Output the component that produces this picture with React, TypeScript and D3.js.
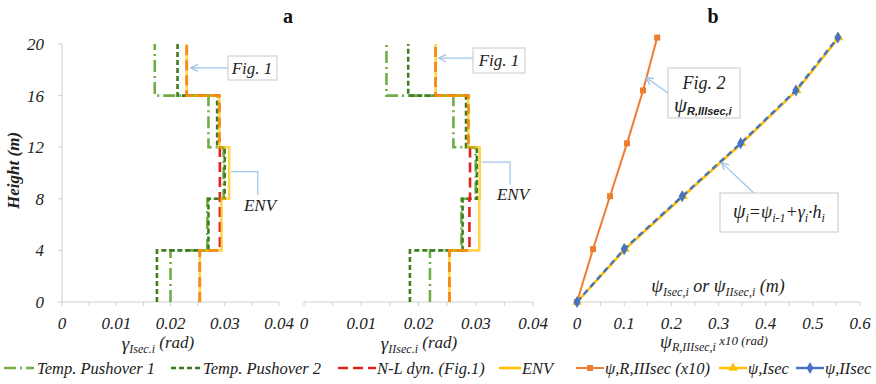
import React from 'react';
import * as d3 from 'd3';

// storey boundaries (m) for the drift profiles
const storyLevels = [0, 4, 8, 12, 16, 20];

// inter-storey drift γ, bottom storey first — section I
const tp1Isec = [0.02, 0.0268, 0.0298, 0.027, 0.0171];
const tp2Isec = [0.0175, 0.027, 0.03, 0.0286, 0.0213];
const nlIsec = [0.0254, 0.0291, 0.0291, 0.029, 0.023];
const envIsec = [0.0254, 0.0294, 0.0308, 0.029, 0.023];

// section II
const tp1IIsec = [0.022, 0.0275, 0.03, 0.0261, 0.0144];
const tp2IIsec = [0.0185, 0.0277, 0.0302, 0.0283, 0.0182];
const nlIIsec = [0.0254, 0.0289, 0.029, 0.0287, 0.023];
const envIIsec = [0.0254, 0.0306, 0.0307, 0.0287, 0.023];

// panel b: floor levels and lateral displacements
const floorLevels = [0, 4.1, 8.2, 12.3, 16.4, 20.5];
const psiR = [0, 0.034, 0.07, 0.106, 0.14, 0.17];
const psiIsec = [0, 0.102, 0.225, 0.349, 0.466, 0.555];
const psiIIsec = [0, 0.1, 0.223, 0.347, 0.464, 0.553];

const heightTicks = [0, 4, 8, 12, 16, 20];
const gammaTicks = [0, 0.01, 0.02, 0.03, 0.04];
const psiTicks = [0, 0.1, 0.2, 0.3, 0.4, 0.5, 0.6];

const legendLabels = [
  'Temp. Pushover 1',
  'Temp. Pushover 2',
  'N-L dyn. (Fig.1)',
  'ENV',
  'ψ,R,IIIsec (x10)',
  'ψ,Isec',
  'ψ,IIsec',
];

const C = {
  tp1: '#70AD47',
  tp2: '#3E7D22',
  nl: '#E3211C',
  env: '#FFC000',
  orange: '#ED7D31',
  yellow: '#FFC000',
  blue: '#4472C4',
  axis: '#D0D0D0',
  callout: '#9DC3E6',
  text: '#222',
};

const SERIF = 'Liberation Serif';
const SANS = 'Liberation Sans';

const W = 876;
const H = 384;

const y = d3.scaleLinear().domain([0, 20]).range([302, 44]);
const x1 = d3.scaleLinear().domain([0, 0.04]).range([62, 279]);
const x2 = d3.scaleLinear().domain([0, 0.04]).range([304, 533]);
const x3 = d3.scaleLinear().domain([0, 0.6]).range([577, 860]);

type Pt = [number, number];

const stepPoints = (vals: number[]): Pt[] =>
  vals.flatMap((g, i) => [
    [g, storyLevels[i]] as Pt,
    [g, storyLevels[i + 1]] as Pt,
  ]);

const lineFor = (xs: d3.ScaleLinear<number, number>) =>
  d3
    .line<Pt>()
    .x((d) => xs(d[0]))
    .y((d) => y(d[1]));

const styles = {
  tp1: { stroke: C.tp1, strokeWidth: 2.6, strokeDasharray: '12 4 2 4' },
  tp2: { stroke: C.tp2, strokeWidth: 2.6, strokeDasharray: '5 3' },
  nl: { stroke: C.nl, strokeWidth: 2.6, strokeDasharray: '10 5' },
  env: { stroke: C.env, strokeWidth: 2.6, opacity: 0.7 },
};

const fmt = (t: number) => String(+t.toFixed(2));

const XAxis = ({
  xs,
  ticks,
  minor,
}: {
  xs: d3.ScaleLinear<number, number>;
  ticks: number[];
  minor: number;
}) => {
  const [a, b] = xs.range();
  return (
    <g>
      <line x1={a} x2={b} y1={y(0)} y2={y(0)} stroke={C.axis} strokeWidth={1} />
      {xs.ticks(minor).map((t) => (
        <line
          key={t}
          x1={xs(t)}
          x2={xs(t)}
          y1={y(0)}
          y2={y(0) + 4}
          stroke={C.axis}
        />
      ))}
      {ticks.map((t) => (
        <text
          key={t}
          x={xs(t)}
          y={y(0) + 27}
          textAnchor="middle"
          fontSize={17}
          fontStyle="italic"
          fill={C.text}
        >
          {fmt(t)}
        </text>
      ))}
    </g>
  );
};

const DriftPanel = ({
  xs,
  tp1,
  tp2,
  nl,
  env,
}: {
  xs: d3.ScaleLinear<number, number>;
  tp1: number[];
  tp2: number[];
  nl: number[];
  env: number[];
}) => {
  const line = lineFor(xs);
  return (
    <g fill="none">
      <path d={line(stepPoints(tp1)) ?? ''} {...styles.tp1} />
      <path d={line(stepPoints(tp2)) ?? ''} {...styles.tp2} />
      <path d={line(stepPoints(nl)) ?? ''} {...styles.nl} />
      <path d={line(stepPoints(env)) ?? ''} {...styles.env} />
    </g>
  );
};

const Callout = ({ pts }: { pts: Pt[] }) => (
  <polyline
    points={pts.map((p) => p.join(',')).join(' ')}
    fill="none"
    stroke={C.callout}
    strokeWidth={1.2}
    markerEnd="url(#arrow)"
  />
);

const Box = ({ x, y0, w, h }: { x: number; y0: number; w: number; h: number }) => (
  <rect x={x} y={y0} width={w} height={h} fill="#fff" stroke="#C8C8C8" strokeWidth={1} />
);

const Marker = ({ kind, cx, cy, color }: { kind: string; cx: number; cy: number; color: string }) => {
  if (kind === 'square')
    return <rect x={cx - 3} y={cy - 3} width={6} height={6} fill={color} />;
  const sym = kind === 'triangle' ? d3.symbolTriangle : d3.symbolDiamond;
  return (
    <path
      d={d3.symbol(sym, kind === 'triangle' ? 38 : 42)() ?? ''}
      transform={`translate(${cx},${cy})`}
      fill={color}
    />
  );
};

const App = () => {
  const l3 = d3
    .line<Pt>()
    .x((d) => x3(d[0]))
    .y((d) => y(d[1]));
  const ptsR = psiR.map((v, i) => [v, floorLevels[i]] as Pt);
  const ptsI = psiIsec.map((v, i) => [v, floorLevels[i]] as Pt);
  const ptsII = psiIIsec.map((v, i) => [v, floorLevels[i]] as Pt);

  const legend = [
    { x0: 4, x1: 34, tx: 37, st: styles.tp1 },
    { x0: 171, x1: 200, tx: 203, st: styles.tp2 },
    { x0: 338, x1: 376, tx: 377, st: styles.nl },
    { x0: 499, x1: 521, tx: 522, st: { stroke: C.env, strokeWidth: 2.6 } },
    { x0: 576, x1: 604, tx: 605, st: { stroke: C.orange, strokeWidth: 2 }, mk: 'square', mc: C.orange },
    { x0: 719, x1: 747, tx: 748, st: { stroke: C.yellow, strokeWidth: 2.4 }, mk: 'triangle', mc: C.yellow },
    { x0: 796, x1: 824, tx: 825, st: { stroke: C.blue, strokeWidth: 2.4 }, mk: 'diamond', mc: C.blue },
  ];

  return (
    <svg
      width={W}
      height={H}
      style={{ position: 'absolute', left: 0, top: 0, background: '#fff' }}
      fontFamily={SERIF}
    >
      <defs>
        <marker
          id="arrow"
          viewBox="0 0 10 10"
          refX={9}
          refY={5}
          markerWidth={9}
          markerHeight={9}
          markerUnits="userSpaceOnUse"
          orient="auto"
        >
          <path d="M1,1 L9,5 L1,9" fill="none" stroke={C.callout} strokeWidth={1.4} />
        </marker>
      </defs>

      {/* titles */}
      <text x={288} y={23} textAnchor="middle" fontSize={20} fontWeight="bold" fill="#111">
        a
      </text>
      <text x={713} y={23} textAnchor="middle" fontSize={20} fontWeight="bold" fill="#111">
        b
      </text>

      {/* y axis (panel a) */}
      <line x1={x1(0)} x2={x1(0)} y1={y(0)} y2={y(20)} stroke={C.axis} />
      {heightTicks.map((t) => (
        <g key={t}>
          <line x1={x1(0) - 4} x2={x1(0)} y1={y(t)} y2={y(t)} stroke={C.axis} />
          <text
            x={44}
            y={y(t) + 6}
            textAnchor="end"
            fontSize={17}
            fontStyle="italic"
            fill={C.text}
          >
            {t}
          </text>
        </g>
      ))}
      <text
        transform={`translate(19,${y(10.2)}) rotate(-90)`}
        textAnchor="middle"
        fontSize={17}
        fontStyle="italic"
        fontWeight="bold"
        fill={C.text}
      >
        Height (m)
      </text>

      {/* x axes */}
      <XAxis xs={x1} ticks={gammaTicks} minor={8} />
      <XAxis xs={x2} ticks={gammaTicks} minor={8} />
      <XAxis xs={x3} ticks={psiTicks} minor={12} />

      <text x={158} y={350} textAnchor="middle" fontStyle="italic" fill={C.text}>
        <tspan fontSize={19}>γ</tspan>
        <tspan fontSize={12} dy={3}>Isec.i</tspan>
        <tspan fontSize={17} dy={-5}> (rad)</tspan>
      </text>
      <text x={419} y={350} textAnchor="middle" fontStyle="italic" fill={C.text}>
        <tspan fontSize={19}>γ</tspan>
        <tspan fontSize={12} dy={3}>IIsec.i</tspan>
        <tspan fontSize={17} dy={-5}> (rad)</tspan>
      </text>
      <text x={714} y={348} textAnchor="middle" fontStyle="italic" fill={C.text}>
        <tspan fontSize={19}>ψ</tspan>
        <tspan fontSize={12} dy={3}>R,IIIsec,i</tspan>
        <tspan fontSize={13} dy={-6}> x10 (rad)</tspan>
      </text>
      <text x={718} y={292} textAnchor="middle" fontStyle="italic" fill={C.text}>
        <tspan fontSize={19}>ψ</tspan>
        <tspan fontSize={12} dy={4}>Isec,i</tspan>
        <tspan fontSize={18} dy={-4}> or </tspan>
        <tspan fontSize={19}>ψ</tspan>
        <tspan fontSize={12} dy={4}>IIsec,i</tspan>
        <tspan fontSize={18} dy={-4}> (m)</tspan>
      </text>

      {/* drift profiles */}
      <DriftPanel xs={x1} tp1={tp1Isec} tp2={tp2Isec} nl={nlIsec} env={envIsec} />
      <DriftPanel xs={x2} tp1={tp1IIsec} tp2={tp2IIsec} nl={nlIIsec} env={envIIsec} />

      {/* panel a callouts */}
      <Callout pts={[[228, y(18.15)], [x1(0.0232) + 3, y(18.15)]]} />
      <Box x={228} y0={56} w={49} h={24} />
      <text x={252} y={74} textAnchor="middle" fontSize={17} fontStyle="italic" fill={C.text}>
        Fig. 1
      </text>
      <polyline
        points={`${x1(0.0308) + 2},${y(10.1)} ${x1(0.0361)},${y(10.1)} ${x1(0.0361)},${y(8.3)}`}
        fill="none"
        stroke={C.callout}
        strokeWidth={1.2}
      />
      <text x={260} y={211} textAnchor="middle" fontSize={17} fontStyle="italic" fill={C.text}>
        ENV
      </text>

      <Callout pts={[[473, y(18.9)], [x2(0.023) + 3, y(18.9)]]} />
      <Box x={473} y0={48} w={52} h={25} />
      <text x={499} y={66} textAnchor="middle" fontSize={17} fontStyle="italic" fill={C.text}>
        Fig. 1
      </text>
      <polyline
        points={`${x2(0.0307) + 2},${y(10.85)} ${x2(0.036)},${y(10.85)} ${x2(0.036)},${y(9.1)}`}
        fill="none"
        stroke={C.callout}
        strokeWidth={1.2}
      />
      <text x={513} y={200} textAnchor="middle" fontSize={17} fontStyle="italic" fill={C.text}>
        ENV
      </text>

      {/* panel b series */}
      <path d={l3(ptsR) ?? ''} fill="none" stroke={C.orange} strokeWidth={2} />
      {ptsR.map((p, i) => (
        <Marker key={i} kind="square" cx={x3(p[0])} cy={y(p[1])} color={C.orange} />
      ))}
      <path d={l3(ptsI) ?? ''} fill="none" stroke={C.yellow} strokeWidth={2.6} />
      {ptsI.map((p, i) => (
        <Marker key={i} kind="triangle" cx={x3(p[0])} cy={y(p[1])} color={C.yellow} />
      ))}
      <path
        d={l3(ptsII) ?? ''}
        fill="none"
        stroke={C.blue}
        strokeWidth={2.4}
        strokeDasharray="6 4"
      />
      {ptsII.map((p, i) => (
        <Marker key={i} kind="diamond" cx={x3(p[0])} cy={y(p[1])} color={C.blue} />
      ))}

      {/* panel b callouts */}
      <Callout pts={[[668, 93], [x3(0.14) + 3, y(17.4)]]} />
      <Box x={668} y0={68} w={72} h={50} />
      <text x={704} y={89} textAnchor="middle" fontSize={18} fontStyle="italic" fill={C.text}>
        Fig. 2
      </text>
      <text x={674} y={112} fill={C.text}>
        <tspan fontSize={21} fontStyle="italic">ψ</tspan>
        <tspan fontSize={11} dy={3} fontStyle="italic" fontWeight="bold" fontFamily={SANS}>
          R,IIIsec,i
        </tspan>
      </text>

      <Callout pts={[[755, 194], [x3(0.3) + 3, y(10.8)]]} />
      <Box x={720} y0={193} w={118} h={39} />
      <text x={779} y={218} textAnchor="middle" fontStyle="italic" fill={C.text}>
        <tspan fontSize={20}>ψ</tspan>
        <tspan fontSize={12} dy={4}>i</tspan>
        <tspan fontSize={18} dy={-4}>=ψ</tspan>
        <tspan fontSize={12} dy={4}>i-1</tspan>
        <tspan fontSize={18} dy={-4}>+γ</tspan>
        <tspan fontSize={12} dy={4}>i</tspan>
        <tspan fontSize={18} dy={-4}>·h</tspan>
        <tspan fontSize={12} dy={4}>i</tspan>
      </text>

      {/* legend */}
      {legend.map((it, i) => (
        <g key={i}>
          <line x1={it.x0} x2={it.x1} y1={368} y2={368} {...it.st} opacity={1} />
          {it.mk && (
            <Marker kind={it.mk} cx={(it.x0 + it.x1) / 2} cy={368} color={it.mc as string} />
          )}
          <text x={it.tx} y={374} fontSize={16.5} fontStyle="italic" fill={C.text}>
            {legendLabels[i]}
          </text>
        </g>
      ))}
    </svg>
  );
};

export default App;
